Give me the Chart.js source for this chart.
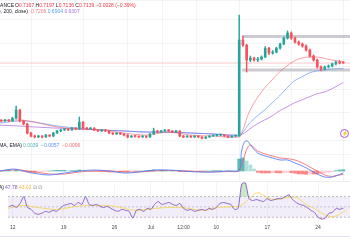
<!DOCTYPE html>
<html>
<head>
<meta charset="utf-8">
<script src="https://cdn.jsdelivr.net/npm/chart.js@4.4.0/dist/chart.umd.min.js"></script>
<style>
html,body{margin:0;padding:0;background:#fff;}
#wrap{position:relative;width:350px;height:250px;overflow:hidden;font-family:"Liberation Sans",Arial,sans-serif;}
canvas{position:absolute;left:0;}
.lbl{position:absolute;white-space:nowrap;font-size:5px;line-height:6px;color:#131722;}
.dn{color:#f23645;}
.sep{position:absolute;left:0;width:350px;height:1px;background:#eceef2;}
#icon{position:absolute;left:340px;top:129px;width:7px;height:7px;border:1px solid #a35bc9;border-radius:50%;
  font-size:5px;line-height:7px;text-align:center;color:#a35bc9;}
</style>
</head>
<body>
<div id="wrap">
  <canvas id="main" width="350" height="140" style="top:0"></canvas>
  <canvas id="macd" width="350" height="41" style="top:140px"></canvas>
  <canvas id="rsi" width="350" height="51" style="top:181px"></canvas>
  <div class="sep" style="top:181px"></div>
  <div class="sep" style="top:236px;background:#e0e3eb"></div>

  <div class="lbl" style="top:2px;right:336px">XRPUSDT · 4h · BINANCE</div>
  <div class="lbl" style="top:2px;left:15px">O<span class="dn">0.7167</span> H<span class="dn">0.7197</span> L<span class="dn">0.7136</span> C<span class="dn">0.7139</span> <span class="dn">−0.0028 (−0.39%)</span></div>
  <div class="lbl" style="top:8px;right:322px">MA (20, close, 50, close, 200, close)</div>
  <div class="lbl" style="top:8px;left:31px"><span style="color:#f77c80">0.7206</span> <span style="color:#5b9cf6">0.6904</span> <span style="color:#ab6ed6">0.6307</span></div>
  <div class="lbl" style="top:142px;right:328px">MACD (12, 26, close, 9, EMA, EMA)</div>
  <div class="lbl" style="top:142px;left:23px"><span style="color:#4db6ac">0.0039</span>&nbsp; <span style="color:#5b8cff">−0.0057</span>&nbsp; <span style="color:#f26d73">−0.0096</span></div>
  <div class="lbl" style="top:184px;right:346px">RSI (14, close, 14, SMA)</div>
  <div class="lbl" style="top:184px;left:5px"><span style="color:#7e57c2">47.78</span> <span style="color:#e0b93a">43.02</span> <span style="color:#787b86">∅ ∅</span></div>
  <div id="icon">⚡</div>
</div>
<script>
// x positions are in days from Jun 12
const tickDays = [0, 7, 14, 19, 23.5, 28, 35, 42];
const tickLabels = ['12', '19', '26', 'Jul', '12:00', '10', '17', '24'];
const xMin = -0.67, xMax = 46.4;

// 12h candles
const candleDays = [-0.5,0,0.5,1,1.5,2,2.5,3,3.5,4,4.5,5,5.5,6,6.5,7,7.5,8,8.5,9,9.5,10,10.5,11,11.5,12,12.5,13,13.5,14,14.5,15,15.5,16,16.5,17,17.5,18,18.5,19,19.5,20,20.5,21,21.5,22,22.5,23,23.5,24,24.5,25,25.5,26,26.5,27,27.5,28,28.5,29,29.5,30,30.5,31,31.5,32,32.5,33,33.5,34,34.5,35,35.5,36,36.5,37,37.5,38,38.5,39,39.5,40,40.5,41,41.5,42,42.5,43,43.5,44,44.5,45,45.5];
const opens  = [.466,.465,.469,.465,.477,.512,.465,.452,.413,.400,.396,.400,.396,.404,.400,.413,.422,.426,.430,.426,.434,.430,.460,.434,.430,.434,.426,.422,.426,.422,.413,.409,.413,.409,.404,.396,.400,.398,.396,.400,.396,.409,.422,.417,.422,.426,.422,.417,.422,.400,.396,.400,.396,.400,.396,.391,.396,.400,.402,.404,.406,.400,.396,.400,.401,.813,.791,.727,.735,.727,.731,.740,.778,.757,.761,.778,.796,.821,.843,.821,.804,.796,.787,.770,.744,.727,.697,.688,.697,.701,.710,.718,.7167];
const highs  = [.470,.472,.471,.480,.529,.515,.468,.455,.416,.404,.403,.402,.407,.406,.416,.425,.429,.433,.432,.437,.436,.482,.462,.437,.437,.436,.428,.429,.428,.424,.415,.416,.415,.411,.406,.402,.403,.400,.402,.401,.411,.434,.424,.425,.429,.428,.424,.425,.423,.402,.402,.401,.402,.401,.398,.398,.402,.404,.407,.409,.407,.401,.402,.403,.920,.830,.795,.744,.740,.738,.745,.785,.782,.768,.782,.800,.826,.852,.848,.826,.809,.800,.792,.774,.749,.731,.702,.701,.706,.714,.722,.724,.7197];
const lows   = [.461,.463,.462,.463,.474,.461,.448,.409,.396,.392,.393,.392,.394,.397,.398,.411,.419,.423,.423,.424,.427,.428,.431,.427,.428,.423,.419,.420,.419,.410,.406,.407,.406,.401,.392,.394,.395,.393,.394,.392,.394,.407,.414,.415,.420,.419,.414,.415,.397,.393,.394,.393,.394,.393,.388,.389,.394,.398,.400,.402,.398,.393,.394,.397,.399,.785,.675,.720,.722,.720,.727,.737,.750,.752,.757,.774,.792,.817,.815,.799,.790,.782,.765,.739,.722,.692,.680,.684,.693,.697,.706,.710,.7136];
const closes = [.465,.469,.465,.477,.512,.465,.452,.413,.400,.396,.400,.396,.404,.400,.413,.422,.426,.430,.426,.434,.430,.460,.434,.430,.434,.426,.422,.426,.422,.413,.409,.413,.409,.404,.396,.400,.398,.396,.400,.396,.409,.422,.417,.422,.426,.422,.417,.422,.400,.396,.400,.396,.400,.396,.391,.396,.400,.402,.404,.406,.400,.396,.400,.401,.813,.791,.727,.735,.727,.731,.740,.778,.757,.761,.778,.796,.821,.843,.821,.804,.796,.787,.770,.744,.727,.697,.688,.697,.701,.710,.718,.714,.7139];
const lastClose = 0.7139;

// moving averages
const maDays = [-0.67,2,4,7,10,13,16,19,22,25,28,31.5,31.9,32.4,32.9,33.9,34.9,35.9,36.9,37.9,38.9,39.9,40.9,41.9,42.9,43.9,45.5];
const maFast = [.465,.469,.460,.439,.430,.426,.413,.404,.417,.404,.400,.396,.417,.465,.508,.563,.606,.641,.675,.701,.723,.735,.740,.740,.735,.727,.7206];
const maMid  = [.456,.465,.460,.443,.434,.426,.422,.417,.417,.413,.409,.400,.413,.434,.456,.486,.512,.542,.572,.606,.637,.654,.671,.680,.684,.688,.6904];
const maSlow = [.447,.443,.439,.434,.430,.426,.422,.417,.417,.413,.409,.404,.409,.417,.430,.452,.469,.486,.508,.525,.542,.555,.568,.581,.589,.602,.6307];
// range box drawn on the chart
const boxStart = 31.9, boxTop = 0.828, boxBottom = 0.684;

// MACD
const macdDays = [-0.67,1,2,3,4.5,6,8,10,12,14,16,18,20,22,24,26,28,30,31.5,31.8,32.2,32.6,33,34,35,36,37,38,39,40,41,42,43,44,45.5];
const macdLine = [0,.006,.003,-.003,-.009,-.012,-.006,0,.003,0,-.006,-.003,.003,.003,0,-.003,-.003,0,.003,.057,.087,.090,.078,.054,.045,.039,.033,.033,.024,.015,.003,-.009,-.018,-.018,-.0057];
const signalLine = [0,.003,.003,0,-.0045,-.009,-.009,-.003,0,0,-.003,-.003,0,.0015,0,-.0015,-.003,-.0015,0,.015,.045,.069,.078,.060,.051,.045,.039,.037,.033,.024,.012,0,-.012,-.016,-.0096];
const histogram = [0,.001,.002,.001,.003,.001,-.001,-.003,-.004,-.004,-.003,-.002,-.001,0,.001,.002,.002,.002,.001,.001,.001,.003,.001,0,0,-.001,-.001,-.002,-.002,-.003,-.003,-.002,-.002,-.002,-.002,-.001,-.001,0,0,.001,.002,.003,.002,.002,.002,.001,.001,0,-.002,-.002,-.002,-.002,-.001,-.001,-.001,0,0,.001,.001,.001,0,0,0,0,.036,.039,.030,.018,.006,-.004,-.006,-.006,-.006,-.005,-.005,-.006,-.005,-.004,-.005,-.007,-.009,-.009,-.010,-.009,-.009,-.009,-.008,-.006,-.004,-.002,.001,.003,.0039];

// RSI
const rsi = [51.0,52.9,49.0,56.7,70.0,49.0,45.2,37.6,35.7,37.6,41.4,39.5,43.3,41.4,47.1,52.9,54.8,56.7,52.9,58.6,54.8,70.0,54.8,52.9,54.8,51.0,49.0,51.0,47.1,43.3,41.4,45.2,43.3,41.4,28.1,43.3,45.2,41.4,47.1,45.2,54.8,60.5,54.8,56.7,58.6,54.8,52.9,56.7,47.1,43.3,45.2,41.4,43.3,45.2,43.3,47.1,45.2,49.0,56.7,58.6,56.7,54.8,45.2,47.1,94.8,96.7,66.2,62.4,64.3,62.4,60.5,66.2,62.4,64.3,66.2,66.2,70.0,73.8,64.3,58.6,54.8,52.9,49.0,43.3,39.5,30.0,26.2,28.1,37.6,39.5,47.1,45.2,47.78];
const rsiMaDays = [-0.67,1.35,3.36,6.06,8.75,11.44,14.13,16.82,19.52,22.88,26.24,28.26,30.96,31.63,32.7,33.65,34.6,35.94,37.69,39.03,40.38,41.72,43.07,44.41,45.76];
const rsiMa = [47.1,52.9,49.0,45.2,51.0,52.9,51.0,43.3,47.1,49.0,43.3,49.0,51.0,54.8,68.1,77.6,71.9,64.3,68.1,68.1,54.8,45.2,33.8,31.9,43.02];

const UP = '#26a69a', DOWN = '#f7525f';
const gridColor = 'rgba(42,46,57,0.05)';
const pts = (xs, ys) => xs.map((x, i) => ({x: x, y: ys[i]}));
const hline = (v, a, b) => [{x: a, y: v}, {x: b, y: v}];

function xScale(showLabels) {
  return {
    type: 'linear', min: xMin, max: xMax, offset: false,
    afterBuildTicks: s => { s.ticks = tickDays.map(v => ({value: v})); },
    grid: {color: gridColor, drawTicks: false},
    border: {display: false},
    ticks: {
      display: showLabels, autoSkip: false, maxRotation: 0, padding: 1,
      color: '#4a4a4a', font: {size: 5, family: 'Liberation Sans'},
      callback: (v, i) => tickLabels[i]
    }
  };
}
const base = {
  responsive: false, animation: false, events: [],
  layout: {padding: 0},
  plugins: {legend: {display: false}, tooltip: {enabled: false}}
};

const candleColor = candleDays.map((d, i) => closes[i] >= opens[i] ? UP : DOWN);

new Chart(document.getElementById('main'), {
  type: 'bar',
  data: {
    datasets: [
      {data: candleDays.map((d, i) => ({x: d, y: [lows[i], highs[i]]})), backgroundColor: candleColor,
       barThickness: 0.8, grouped: false, order: 1},
      {data: candleDays.map((d, i) => ({x: d, y: [opens[i], closes[i]]})), backgroundColor: candleColor,
       barThickness: 2, minBarLength: 1, grouped: false, order: 0},
      {type: 'line', data: pts(maDays, maFast), borderColor: 'rgba(242,84,96,0.55)', borderWidth: 1, pointRadius: 0, tension: 0.35, order: 2},
      {type: 'line', data: pts(maDays, maMid), borderColor: 'rgba(77,140,245,0.6)', borderWidth: 1, pointRadius: 0, tension: 0.35, order: 2},
      {type: 'line', data: pts(maDays, maSlow), borderColor: 'rgba(171,90,214,0.65)', borderWidth: 1, pointRadius: 0, tension: 0.35, order: 2},
      {type: 'line', data: hline(lastClose, xMin, xMax), borderColor: 'rgba(242,54,69,0.35)', borderWidth: 0.8, pointRadius: 0, order: 3},
      {type: 'line', data: hline(boxTop, boxStart, xMax), borderColor: 'rgba(140,140,152,0.45)', borderWidth: 3, pointRadius: 0, order: 3},
      {type: 'line', data: hline(boxBottom, boxStart, xMax), borderColor: 'rgba(140,140,152,0.45)', borderWidth: 3, pointRadius: 0, order: 3}
    ]
  },
  options: Object.assign({}, base, {
    scales: {
      x: xScale(false),
      y: {min: 0.383, max: 0.985, ticks: {display: false, stepSize: 0.1}, grid: {color: gridColor, drawTicks: false}, border: {display: false}}
    }
  })
});

const histColor = histogram.map((v, i) => {
  const prev = i > 0 ? histogram[i - 1] : 0;
  if (v >= 0) return v >= prev ? 'rgba(38,166,154,0.75)' : '#b2dfdb';
  return v <= prev ? 'rgba(255,82,82,0.7)' : '#ffcdd2';
});

new Chart(document.getElementById('macd'), {
  type: 'bar',
  data: {
    datasets: [
      {type: 'line', data: pts(macdDays, macdLine), borderColor: 'rgba(77,124,246,0.85)', borderWidth: 1, pointRadius: 0, tension: 0.35, order: 0},
      {type: 'line', data: pts(macdDays, signalLine), borderColor: 'rgba(240,104,110,0.85)', borderWidth: 1, pointRadius: 0, tension: 0.35, order: 0},
      {data: candleDays.map((d, i) => ({x: d, y: histogram[i]})), backgroundColor: histColor, barThickness: 3, order: 1}
    ]
  },
  options: Object.assign({}, base, {
    scales: {
      x: xScale(false),
      y: {min: -0.030, max: 0.093, ticks: {display: false, stepSize: 0.05}, grid: {color: gridColor, drawTicks: false}, border: {display: false}}
    }
  })
});

new Chart(document.getElementById('rsi'), {
  type: 'line',
  data: {
    datasets: [
      {data: pts(candleDays, rsi), borderColor: 'rgba(126,87,194,0.9)', borderWidth: 1, pointRadius: 0, tension: 0.2,
       fill: {target: {value: 70}, above: 'rgba(76,175,80,0.3)', below: 'rgba(0,0,0,0)'}},
      {data: pts(candleDays, rsi), borderWidth: 0, pointRadius: 0, tension: 0.2,
       fill: {target: {value: 30}, above: 'rgba(0,0,0,0)', below: 'rgba(242,54,69,0.2)'}},
      {data: pts(rsiMaDays, rsiMa), borderColor: '#f5d76e', borderWidth: 1, pointRadius: 0, tension: 0.4},
      {data: hline(70, xMin, xMax), borderColor: 'rgba(120,123,134,0.6)', borderWidth: 0.8, borderDash: [2, 2], pointRadius: 0,
       fill: {target: {value: 30}}, backgroundColor: 'rgba(126,87,194,0.1)'},
      {data: hline(50, xMin, xMax), borderColor: 'rgba(120,123,134,0.45)', borderWidth: 0.8, borderDash: [2, 2], pointRadius: 0},
      {data: hline(30, xMin, xMax), borderColor: 'rgba(120,123,134,0.6)', borderWidth: 0.8, borderDash: [2, 2], pointRadius: 0}
    ]
  },
  options: Object.assign({}, base, {
    scales: {
      x: xScale(true),
      y: {min: 16.7, max: 100.5, ticks: {display: false}, grid: {display: false}, border: {display: false}}
    }
  })
});
</script>
</body>
</html>
